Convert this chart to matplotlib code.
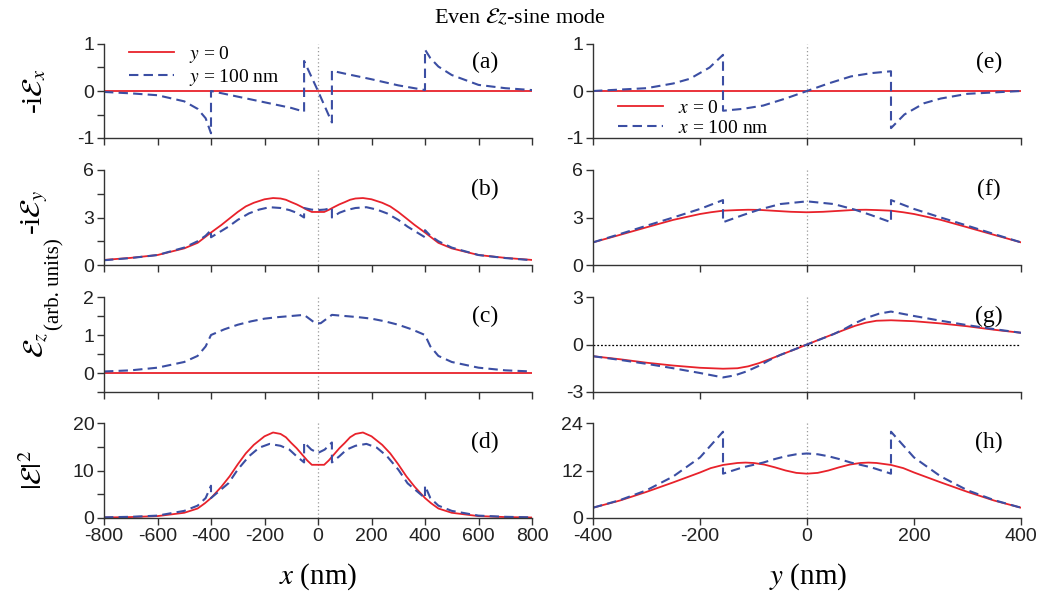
import matplotlib
matplotlib.use('Agg')
import matplotlib.pyplot as plt
from matplotlib.ticker import MultipleLocator

plt.rcParams['font.family'] = 'Liberation Sans'
plt.rcParams['mathtext.fontset'] = 'stix'
plt.rcParams['axes.unicode_minus'] = False

RED = '#e8222b'
BLUE = '#3b4ea3'
SERIF = 'Liberation Serif'

# ---- left column: fields along x (nm), red = y = 0, blue = y = 100 nm ----
xl_zero = [-800, 800]
zero_l = [0, 0]

# (a) -iEx, y = 100 nm
xa_b = [-800, -700, -600, -500, -450, -420, -400, -400, -300, -200, -100, -52, -52, 0,
        52, 52, 100, 200, 300, 400, 400, 420, 450, 500, 600, 700, 800]
ea_b = [-0.02, -0.05, -0.09, -0.22, -0.38, -0.58, -0.90, 0.0, -0.12, -0.24, -0.36, -0.44, 0.64, 0.0,
        -0.67, 0.43, 0.37, 0.25, 0.12, 0.02, 0.88, 0.70, 0.52, 0.34, 0.13, 0.06, 0.02]

# (b) -iEy
xb_r = [-800, -700, -600, -500, -450, -423, -400, -361, -330, -300, -270, -240, -200, -168, -140, -120,
        -100, -80, -60, -40, -23,
        23, 40, 60, 80, 100, 120, 140, 168, 200, 240, 270, 300, 330, 361, 400, 423, 450, 500, 600, 700, 800]
eb_r = [0.32, 0.45, 0.63, 1.05, 1.40, 1.75, 2.05, 2.53, 2.95, 3.35, 3.70, 3.93, 4.15, 4.23, 4.20, 4.12,
        3.97, 3.83, 3.66, 3.48, 3.35,
        3.35, 3.48, 3.66, 3.83, 3.97, 4.12, 4.20, 4.23, 4.15, 3.93, 3.70, 3.35, 2.95, 2.53, 2.05, 1.75, 1.40,
        1.05, 0.63, 0.45, 0.32]
xb_b = [-800, -700, -600, -500, -450, -420, -400, -400, -335, -300, -258, -220, -181, -140, -107, -80, -52,
        -52, -25, 0, 25, 52,
        52, 80, 107, 140, 181, 220, 258, 300, 335, 400, 400, 420, 450, 500, 600, 700, 800]
eb_b = [0.30, 0.44, 0.63, 1.10, 1.50, 1.85, 2.20, 1.75, 2.42, 2.85, 3.26, 3.50, 3.65, 3.60, 3.47, 3.30, 3.00,
        3.60, 3.50, 3.47, 3.50, 3.60,
        3.00, 3.30, 3.47, 3.60, 3.65, 3.50, 3.26, 2.85, 2.42, 1.75, 2.20, 1.85, 1.50, 1.10, 0.63, 0.44, 0.30]

# (c) Ez
xc_b = [-800, -700, -600, -500, -450, -420, -400, -350, -300, -250, -200, -150, -100, -52, -10,
        10, 52, 100, 150, 200, 250, 300, 350, 400, 420, 450, 500, 600, 700, 800]
ec_b = [0.04, 0.07, 0.14, 0.29, 0.45, 0.70, 1.00, 1.15, 1.27, 1.36, 1.43, 1.47, 1.50, 1.53, 1.31,
        1.31, 1.53, 1.50, 1.47, 1.43, 1.36, 1.27, 1.15, 1.00, 0.70, 0.45, 0.29, 0.14, 0.07, 0.04]

# (d) |E|^2
xd_r = xb_r
ed_r = [0.10, 0.20, 0.40, 1.10, 2.00, 3.10, 4.20, 6.60, 8.80, 11.3, 13.6, 15.4, 17.2, 18.0, 17.7, 17.0,
        15.8, 14.7, 13.4, 12.1, 11.2,
        11.2, 12.1, 13.4, 14.7, 15.8, 17.0, 17.7, 18.0, 17.2, 15.4, 13.6, 11.3, 8.80, 6.60, 4.20, 3.10, 2.00,
        1.10, 0.40, 0.20, 0.10]
xd_b = xb_b
ed_b = [0.14, 0.25, 0.50, 1.50, 2.60, 4.20, 6.80, 4.20, 7.30, 10.2, 13.0, 14.8, 15.6, 15.2, 14.4, 13.0, 11.7,
        15.9, 14.4, 13.7, 14.4, 15.9,
        11.7, 13.0, 14.4, 15.2, 15.6, 14.8, 13.0, 10.2, 7.30, 4.20, 6.80, 4.20, 2.60, 1.50, 0.50, 0.25, 0.14]

# ---- right column: fields along y (nm), red = x = 0, blue = x = 100 nm ----
yr_zero = [-400, 400]
zero_r = [0, 0]

# (e) -iEx
ye_b = [-400, -350, -300, -250, -219, -182, -157, -157, -120, -82, -40, 0,
        40, 82, 120, 157, 157, 182, 219, 250, 300, 350, 400]
ee_b = [0.0, 0.03, 0.06, 0.16, 0.26, 0.50, 0.77, -0.42, -0.38, -0.31, -0.16, 0.0,
        0.16, 0.31, 0.38, 0.42, -0.79, -0.50, -0.26, -0.16, -0.06, -0.03, 0.0]

# (f) -iEy
yf_r = [-400, -350, -300, -250, -200, -180, -157, -130, -110, -89, -60, -30, 0,
        30, 60, 89, 110, 130, 157, 180, 200, 250, 300, 350, 400]
ef_r = [1.43, 1.90, 2.38, 2.85, 3.22, 3.33, 3.43, 3.47, 3.49, 3.48, 3.42, 3.36, 3.33,
        3.36, 3.42, 3.48, 3.49, 3.47, 3.43, 3.33, 3.22, 2.85, 2.38, 1.90, 1.43]
yf_b = [-400, -350, -300, -250, -200, -157, -157, -120, -89, -50, 0, 50, 89, 120, 157, 157, 200, 250,
        300, 350, 400]
ef_b = [1.43, 1.95, 2.48, 3.00, 3.54, 4.10, 2.70, 3.15, 3.50, 3.85, 4.02, 3.85, 3.50, 3.15, 2.70, 4.10,
        3.54, 3.00, 2.48, 1.95, 1.43]

# (g) Ez
yg_r = [-400, -350, -300, -250, -200, -157, -130, -110, -90, -70, -45, -20, 0,
        20, 45, 70, 90, 110, 130, 157, 200, 250, 300, 350, 400]
eg_r = [-0.74, -0.93, -1.15, -1.33, -1.47, -1.53, -1.50, -1.38, -1.18, -0.93, -0.60, -0.27, 0.0,
        0.27, 0.60, 0.93, 1.18, 1.38, 1.50, 1.53, 1.47, 1.33, 1.15, 0.93, 0.74]
yg_b = [-400, -350, -300, -250, -200, -157, -135, -113, -90, -70, -50, -25, 0,
        25, 50, 70, 90, 113, 135, 157, 200, 250, 300, 350, 400]
eg_b = [-0.74, -0.97, -1.22, -1.50, -1.80, -2.08, -1.95, -1.70, -1.35, -0.98, -0.66, -0.33, 0.0,
        0.33, 0.66, 0.98, 1.35, 1.70, 1.95, 2.08, 1.80, 1.50, 1.22, 0.97, 0.74]

# (h) |E|^2
yh_r = [-400, -350, -300, -250, -200, -180, -157, -130, -115, -100, -80, -60, -40, -20, 0,
        20, 40, 60, 80, 100, 115, 130, 157, 180, 200, 250, 300, 350, 400]
eh_r = [2.6, 4.4, 6.6, 9.0, 11.5, 12.6, 13.4, 13.9, 14.0, 13.9, 13.5, 12.8, 12.0, 11.4, 11.2,
        11.4, 12.0, 12.8, 13.5, 13.9, 14.0, 13.9, 13.4, 12.6, 11.5, 9.0, 6.6, 4.4, 2.6]
yh_b = [-400, -350, -300, -250, -200, -157, -157, -120, -82, -60, -40, -20, 0,
        20, 40, 60, 82, 120, 157, 157, 200, 250, 300, 350, 400]
eh_b = [2.6, 4.5, 7.0, 10.5, 15.3, 21.8, 11.2, 12.8, 14.0, 14.9, 15.6, 16.1, 16.3,
        16.1, 15.6, 14.9, 14.0, 12.8, 11.2, 21.8, 15.3, 10.5, 7.0, 4.5, 2.6]

W, H = 1048, 598
fig = plt.figure(figsize=(W / 100, H / 100), dpi=100)

rows = [(44, 138), (170, 265), (297, 392), (423, 518)]
cols = [104, 593]
aw = 428


def make_ax(col, row):
    top, bot = rows[row]
    return fig.add_axes([cols[col] / W, 1 - bot / H, aw / W, (bot - top) / H])


def style(ax, xlim, ylim, yticks, ystep, xlabels, minor_y, label):
    ax.set_xlim(*xlim)
    ax.set_ylim(*ylim)
    for s in ['top', 'right']:
        ax.spines[s].set_visible(False)
    for s in ['left', 'bottom']:
        ax.spines[s].set_color('#333333')
        ax.spines[s].set_linewidth(1.0)
    ax.set_xticks(range(xlim[0], xlim[1] + 1, 200))
    ax.set_yticks(yticks)
    if minor_y:
        ax.yaxis.set_minor_locator(MultipleLocator(ystep / 2))
    ax.tick_params(which='both', direction='out', length=5, width=1.0, color='#333333',
                   labelsize=14, labelcolor='#222222', pad=2)
    if not xlabels:
        ax.tick_params(axis='x', labelbottom=False)
    ax.axvline(0, color='#999999', lw=0.9, ls=(0, (1, 2)), zorder=0)
    xt = 0.89 if xlim[0] == -800 else 0.925
    ax.text(xt, 0.80, label, transform=ax.transAxes, ha='center', va='center',
            fontsize=17, family=SERIF)


dash = (0, (4.5, 2.5))

# left column
ax = make_ax(0, 0)
ax.plot(xl_zero, zero_l, color=RED, lw=1.3, label='$y$ = 0')
ax.plot(xa_b, ea_b, color=BLUE, lw=1.5, ls=dash, label='$y$ = 100 nm')
style(ax, (-800, 800), (-1, 1), [-1, 0, 1], 1, False, True, '(a)')
ax.legend(loc='upper left', bbox_to_anchor=(0.04, 1.08), frameon=False,
          prop={'family': SERIF, 'size': 14}, handlelength=2.3, labelspacing=0.1,
          borderaxespad=0, handletextpad=0.8)

ax = make_ax(0, 1)
ax.plot(xb_r, eb_r, color=RED, lw=1.3)
ax.plot(xb_b, eb_b, color=BLUE, lw=1.5, ls=dash)
style(ax, (-800, 800), (0, 6), [0, 3, 6], 3, False, True, '(b)')

ax = make_ax(0, 2)
ax.plot(xl_zero, zero_l, color=RED, lw=1.3)
ax.plot(xc_b, ec_b, color=BLUE, lw=1.5, ls=dash)
style(ax, (-800, 800), (-0.5, 2), [0, 1, 2], 1, False, True, '(c)')

ax = make_ax(0, 3)
ax.plot(xd_r, ed_r, color=RED, lw=1.3)
ax.plot(xd_b, ed_b, color=BLUE, lw=1.5, ls=dash)
style(ax, (-800, 800), (0, 20), [0, 10, 20], 10, True, True, '(d)')

# right column
ax = make_ax(1, 0)
ax.plot(yr_zero, zero_r, color=RED, lw=1.3, label='$x$ = 0')
ax.plot(ye_b, ee_b, color=BLUE, lw=1.5, ls=dash, label='$x$ = 100 nm')
style(ax, (-400, 400), (-1, 1), [-1, 0, 1], 1, False, False, '(e)')
ax.legend(loc='lower left', bbox_to_anchor=(0.04, -0.07), frameon=False,
          prop={'family': SERIF, 'size': 14}, handlelength=2.3, labelspacing=0.1,
          borderaxespad=0, handletextpad=0.8)

ax = make_ax(1, 1)
ax.plot(yf_r, ef_r, color=RED, lw=1.3)
ax.plot(yf_b, ef_b, color=BLUE, lw=1.5, ls=dash)
style(ax, (-400, 400), (0, 6), [0, 3, 6], 3, False, False, '(f)')

ax = make_ax(1, 2)
ax.axhline(0, color='black', lw=0.9, ls=(0, (1.5, 1.5)), zorder=0)
ax.plot(yg_r, eg_r, color=RED, lw=1.3)
ax.plot(yg_b, eg_b, color=BLUE, lw=1.5, ls=dash)
style(ax, (-400, 400), (-3, 3), [-3, 0, 3], 3, False, False, '(g)')

ax = make_ax(1, 3)
ax.plot(yh_r, eh_r, color=RED, lw=1.3)
ax.plot(yh_b, eh_b, color=BLUE, lw=1.5, ls=dash)
style(ax, (-400, 400), (0, 24), [0, 12, 24], 12, True, False, '(h)')

# figure texts
fig.text(520 / W, 1 - 18 / H, r'Even $\mathcal{E}z$-sine mode', ha='center', va='center',
         fontsize=16, family=SERIF)
lab = dict(rotation=90, ha='center', va='center', family=SERIF, fontsize=21)
fig.text(35 / W, 1 - 91 / H, r'-i$\mathcal{E}_x$', **lab)
fig.text(35 / W, 1 - 212 / H, r'-i$\mathcal{E}_y$', **lab)
fig.text(37 / W, 1 - 345 / H, r'$\mathcal{E}_z$', **lab)
fig.text(55 / W, 1 - 284 / H, '(arb. units)', rotation=90, ha='center', va='center',
         family=SERIF, fontsize=15)
fig.text(34 / W, 1 - 470 / H, r'$|\mathcal{E}|^2$', **lab)
fig.text(318 / W, 1 - 577 / H, r'$x$ (nm)', ha='center', va='center', family=SERIF, fontsize=21)
fig.text(808 / W, 1 - 577 / H, r'$y$ (nm)', ha='center', va='center', family=SERIF, fontsize=21)

fig.savefig('out.png', dpi=100)
